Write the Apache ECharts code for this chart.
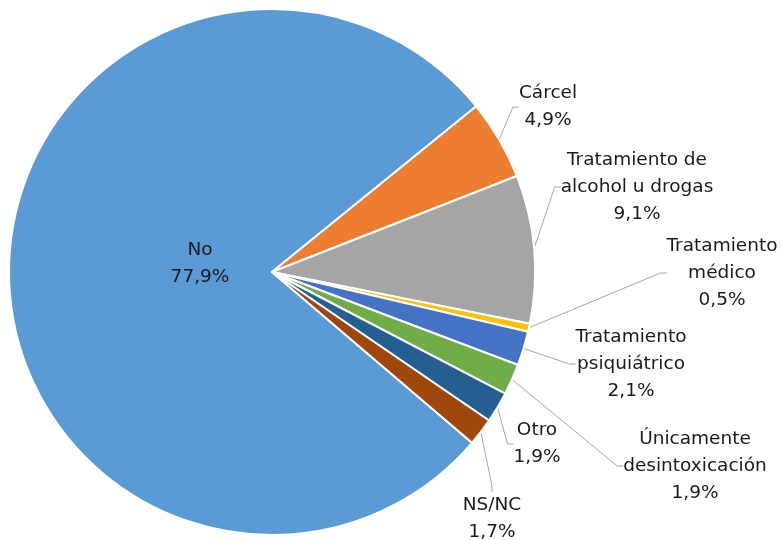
<!DOCTYPE html>
<html>
<head>
<meta charset="utf-8">
<script src="https://cdn.jsdelivr.net/npm/echarts@6/dist/echarts.min.js"></script>
<style>
html,body{margin:0;padding:0;background:#fff;}
#chart{width:782px;height:540px;}
</style>
</head>
<body>
<div id="chart"></div>
<script>
var categories = ['No', 'Cárcel', 'Tratamiento de\nalcohol u drogas', 'Tratamiento\nmédico', 'Tratamiento\npsiquiátrico', 'Únicamente\ndesintoxicación', 'Otro', 'NS/NC'];
var values = [77.9, 4.9, 9.1, 0.5, 2.1, 1.9, 1.9, 1.7];
var colors = ['#5B9BD5', '#ED7D31', '#A5A5A5', '#FFC000', '#4472C4', '#70AD47', '#255E91', '#9E480E'];
// label block centres (layout only)
var labelPos = [[200, 264], [548, 107], [637, 187], [722, 273], [631, 364], [695, 466], [537, 444], [492, 519]];

var chart = echarts.init(document.getElementById('chart'));
chart.setOption({
  animation: false,
  series: [{
    type: 'pie',
    center: [272, 272],
    radius: [0, 263],
    startAngle: 319.5,
    clockwise: true,
    avoidLabelOverlap: false,
    itemStyle: {borderColor: '#fff', borderWidth: 2},
    label: {
      show: true,
      position: 'outside',
      color: '#1a1a1a',
      fontFamily: 'DejaVu Sans',
      fontSize: 18.5,
      lineHeight: 27,
      align: 'center',
      formatter: function (p) { return p.name + '\n' + String(p.value).replace('.', ',') + '%'; }
    },
    labelLine: {show: true, length: 10, length2: 6, lineStyle: {color: '#A6A6A6', width: 1}},
    labelLayout: function (p) {
      var pos = labelPos[p.dataIndex];
      return {x: pos[0], y: pos[1], align: 'center', verticalAlign: 'middle'};
    },
    data: categories.map(function (c, i) {
      var d = {name: c, value: values[i], itemStyle: {color: colors[i]}};
      if (i === 0) { d.label = {position: 'inside'}; d.labelLine = {show: false}; }
      return d;
    })
  }]
});
</script>
</body>
</html>
